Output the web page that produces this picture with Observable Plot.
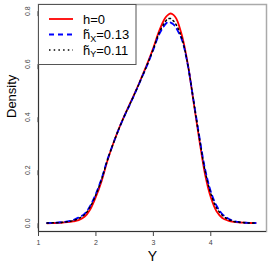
<!DOCTYPE html>
<html><head><meta charset="utf-8">
<script src="https://cdn.jsdelivr.net/npm/d3@7"></script>
<script src="https://cdn.jsdelivr.net/npm/@observablehq/plot@0.6"></script>
<style>body{margin:0;background:#fff} #chart{width:270px;height:270px}</style>
</head><body><div id="chart"></div>
<script>
const yGrid  = [1.15,1.3,1.4,1.5,1.6,1.7,1.8,1.9,2.0,2.1,2.2,2.3,2.4,2.5,2.6,2.7,2.8,2.9,3.0,3.1,3.2,3.25,3.3,3.35,3.4,3.5,3.6,3.7,3.8,3.9,4.0,4.1,4.2,4.3,4.4,4.5,4.6,4.7,4.78];
const densH0 = [0.000,0.001,0.002,0.004,0.007,0.012,0.024,0.052,0.100,0.160,0.236,0.300,0.357,0.408,0.455,0.502,0.553,0.605,0.662,0.725,0.772,0.785,0.791,0.786,0.772,0.706,0.600,0.458,0.315,0.185,0.098,0.045,0.020,0.010,0.005,0.003,0.002,0.001,0.001];
const densHX = [0.001,0.002,0.004,0.007,0.012,0.022,0.035,0.066,0.112,0.170,0.240,0.300,0.356,0.406,0.452,0.500,0.550,0.600,0.655,0.712,0.748,0.758,0.757,0.750,0.735,0.690,0.596,0.463,0.328,0.205,0.120,0.066,0.035,0.018,0.009,0.004,0.002,0.001,0.001];
const densHY = [0.001,0.002,0.003,0.006,0.010,0.018,0.032,0.062,0.108,0.167,0.238,0.300,0.356,0.407,0.453,0.501,0.551,0.602,0.658,0.718,0.758,0.770,0.772,0.763,0.748,0.695,0.598,0.461,0.323,0.198,0.112,0.058,0.030,0.015,0.007,0.004,0.002,0.001,0.001];
const xTicks = [1,2,3,4];
const yTicks = [0,0.2,0.4,0.6,0.8];
const xDomain = [1,4.97];
const yDomain = [-0.031,0.825];
const legendHeads = ["h=0","h\u0303","h\u0303"];
const legendSubs = ["","X","Y"];
const legendTails = ["","=0.13","=0.11"];
const legendColors = ["#FF0000","#0000FF","#000000"];
const legendDash = [null,"5,4","1.5,3.2"];

const font = "'Liberation Sans', Arial, Helvetica, sans-serif";
const idx = yGrid.map((_, i) => i);
const series = [densH0, densHX, densHY];
const widths = [1.8, 1.8, 1.5];

const lineMarks = series.map((s, k) => Plot.line(idx, {
  x: i => yGrid[i], y: i => s[i], stroke: legendColors[k], strokeWidth: widths[k],
  strokeDasharray: legendDash[k] ?? undefined, curve: "catmull-rom"
}));

const plot = Plot.plot({
  width: 270, height: 270,
  marginLeft: 38, marginRight: 4, marginTop: 4, marginBottom: 39,
  style: {fontFamily: font, background: "white", overflow: "visible"},
  x: {domain: xDomain},
  y: {domain: yDomain},
  marks: [
    Plot.frame({stroke: "#aaa", strokeWidth: 1.5}),
    Plot.ruleX([xDomain[0]], {stroke: "#333", strokeWidth: 1}),
    Plot.ruleY([yDomain[0]], {stroke: "#333", strokeWidth: 1}),
    ...lineMarks,
    Plot.axisX({ticks: xTicks, tickSize: 5, tickPadding: 4, tickFormat: d => String(d), fontSize: 7, color: "#444", label: null}),
    Plot.axisY({ticks: yTicks, tickSize: 5, tickPadding: 6, tickFormat: d => d.toFixed(1), fontSize: 7, color: "#444", rotate: -90, textAnchor: "middle", lineAnchor: "middle", label: null}),
    Plot.text(["Density"], {text: d => d, frameAnchor: "left", dx: -27, rotate: -90, fontSize: 13, fill: "#000"}),
    Plot.text(["Y"], {text: d => d, frameAnchor: "bottom", lineAnchor: "middle", dy: 25, fontSize: 14, fill: "#000"})
  ]
});
document.getElementById("chart").appendChild(plot);

// legend
const svg = d3.select(plot);
const g = svg.append("g").attr("font-family", font).attr("text-anchor", "start").attr("fill", "#000");
g.append("rect").attr("x", 38.5).attr("y", 4.5).attr("width", 97.5).attr("height", 60)
  .attr("fill", "white").attr("stroke", "#555").attr("stroke-width", 1);
legendHeads.forEach((head, k) => {
  const cy = 19 + k * 15.5;
  const ln = g.append("line").attr("x1", 49).attr("x2", 73).attr("y1", cy).attr("y2", cy)
    .attr("stroke", legendColors[k]).attr("stroke-width", widths[k]);
  if (legendDash[k]) ln.attr("stroke-dasharray", legendDash[k]);
  const t = g.append("text").attr("x", 83).attr("y", cy + 4.5).attr("font-size", 13);
  t.append("tspan").text(head);
  if (legendSubs[k]) {
    t.append("tspan").attr("font-size", 9).attr("dy", 2.5).text(legendSubs[k]);
    t.append("tspan").attr("dy", -2.5).text(legendTails[k]);
  }
});
</script></body></html>
